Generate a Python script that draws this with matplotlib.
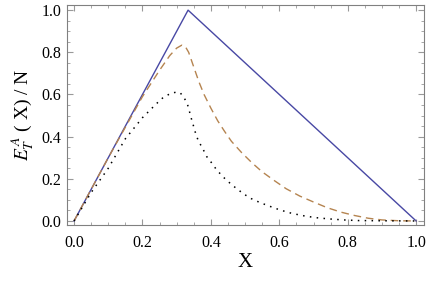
import numpy as np
import matplotlib.pyplot as plt
from matplotlib.ticker import MultipleLocator

plt.rcParams['font.family'] = 'Liberation Serif'
plt.rcParams['mathtext.fontset'] = 'stix'

# solid: triangle
x_solid = [0.0, 1/3, 1.0]
y_solid = [0.0, 1.0, 0.0]

# dashed
x_dash = [0, 0.1, 0.2, 0.22, 0.25, 0.28, 0.3, 0.315, 0.325, 0.335, 0.35, 0.365, 0.38,
          0.40, 0.42, 0.44, 0.46, 0.49, 0.52, 0.55, 0.585, 0.62, 0.66, 0.7, 0.74, 0.78,
          0.82, 0.86, 0.9, 0.95, 1.0]
y_dash = [0, 0.3, 0.59, 0.64, 0.715, 0.785, 0.82, 0.834, 0.828, 0.8, 0.73, 0.66, 0.60,
          0.535, 0.475, 0.425, 0.378, 0.324, 0.276, 0.233, 0.192, 0.153, 0.118, 0.09, 0.063,
          0.042, 0.026, 0.013, 0.005, 0.001, 0]

# dotted
x_dot = [0, 0.05, 0.1, 0.15, 0.2, 0.24, 0.26, 0.28, 0.3, 0.31, 0.32, 0.328, 0.334, 0.34,
         0.347, 0.354, 0.363, 0.376, 0.388, 0.402, 0.417, 0.437, 0.456, 0.474, 0.497,
         0.518, 0.544, 0.588, 0.627, 0.666, 0.705, 0.744, 0.787, 0.83, 0.9, 1.0]
y_dot = [0, 0.135, 0.25, 0.39, 0.49, 0.555, 0.585, 0.603, 0.612, 0.608, 0.59, 0.565, 0.542,
         0.502, 0.463, 0.423, 0.381, 0.344, 0.305, 0.276, 0.242, 0.207, 0.179, 0.155, 0.127,
         0.106, 0.087, 0.06, 0.04, 0.026, 0.016, 0.01, 0.005, 0.002, 0.001, 0]

fig = plt.figure(figsize=(4.27, 2.83), dpi=100)
ax = fig.add_axes([0.157, 0.205, 0.836, 0.777])

ax.plot(x_solid, y_solid, color='#4848a4', lw=1.0)
ax.plot(x_dash, y_dash, color='#b58450', lw=1.0, dashes=(5.5, 3.5))
ax.plot(x_dot, y_dot, color='black', lw=1.1, dashes=(1, 3.5))

ax.set_xlim(-0.0205, 1.023)
ax.set_ylim(-0.019, 1.024)

ax.xaxis.set_major_locator(MultipleLocator(0.2))
ax.xaxis.set_minor_locator(MultipleLocator(0.05))
ax.yaxis.set_major_locator(MultipleLocator(0.2))
ax.yaxis.set_minor_locator(MultipleLocator(0.05))
ax.xaxis.set_major_formatter(plt.FormatStrFormatter('%.1f'))
ax.yaxis.set_major_formatter(plt.FormatStrFormatter('%.1f'))

ax.tick_params(which='both', direction='in', top=True, right=True, color='#999999',
               labelsize=11.5, labelcolor='black')
ax.tick_params(which='major', length=4, width=0.8)
ax.tick_params(which='minor', length=2, width=0.6)
ax.tick_params(axis='x', pad=7)
ax.tick_params(axis='y', pad=4)
for s in ax.spines.values():
    s.set_color('#808080')
    s.set_linewidth(0.8)

ax.set_xlabel('X', fontsize=15, labelpad=2)
ax.set_ylabel(r'$E_T^{\,A}$ ( X) / N', fontsize=14, labelpad=4)

fig.savefig('out.png', dpi=100)
